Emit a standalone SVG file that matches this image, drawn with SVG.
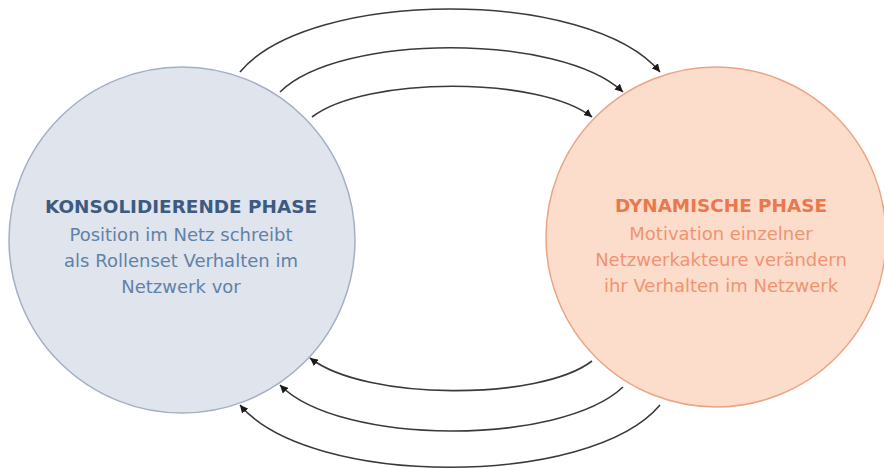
<svg xmlns="http://www.w3.org/2000/svg" width="884" height="469" viewBox="0 0 884 469">
<style>
.lt{font-family:"DejaVu Sans","Liberation Sans",Arial,sans-serif;font-size:18px;text-anchor:middle}
.tt{font-weight:bold}
.conn{fill:none;stroke:#3a3a3a;stroke-width:1.6}
</style>
<defs>
<marker id="ah" viewBox="0 0 10 10" refX="10" refY="5" markerWidth="8" markerHeight="8" orient="auto" markerUnits="userSpaceOnUse">
<path d="M0,0 L10,5 L0,10 z" fill="#1a1a1a"/>
</marker>
</defs>
<rect width="884" height="469" fill="#ffffff"/>
<g id="node-konsolidierend">
<circle cx="182" cy="240" r="173" fill="#dfe4ed" stroke="#a3b0c4" stroke-width="1.5"/>
<text class="lt tt" x="181" y="213" fill="#3d5a80" textLength="272" lengthAdjust="spacingAndGlyphs">KONSOLIDIERENDE PHASE</text>
<text class="lt" x="181" y="241" fill="#5f82a8">Position im Netz schreibt</text>
<text class="lt" x="181" y="267" fill="#5f82a8">als Rollenset Verhalten im</text>
<text class="lt" x="181" y="293" fill="#5f82a8">Netzwerk vor</text>
</g>
<g id="node-dynamisch">
<circle cx="716" cy="237" r="170" fill="#fcdccb" stroke="#eba585" stroke-width="1.5"/>
<text class="lt tt" x="721" y="212" fill="#e9784c" textLength="212" lengthAdjust="spacingAndGlyphs">DYNAMISCHE PHASE</text>
<text class="lt" x="721" y="240" fill="#f09470">Motivation einzelner</text>
<text class="lt" x="721" y="266" fill="#f09470">Netzwerkakteure verändern</text>
<text class="lt" x="721" y="292" fill="#f09470">ihr Verhalten im Netzwerk</text>
</g>
<g id="connectors">
<path class="conn" marker-end="url(#ah)" d="M240,72 C310,-12 590,-12 660,72"/>
<path class="conn" marker-end="url(#ah)" d="M280,92 C340,33 560,33 623,92"/>
<path class="conn" marker-end="url(#ah)" d="M312,117 C365,76 540,76 592,117"/>
<path class="conn" marker-end="url(#ah)" d="M592,361 C540,401 365,401 310,358"/>
<path class="conn" marker-end="url(#ah)" d="M623,387 C560,446 340,446 280,385"/>
<path class="conn" marker-end="url(#ah)" d="M660,405 C590,488 310,488 240,405"/>
</g>
</svg>
